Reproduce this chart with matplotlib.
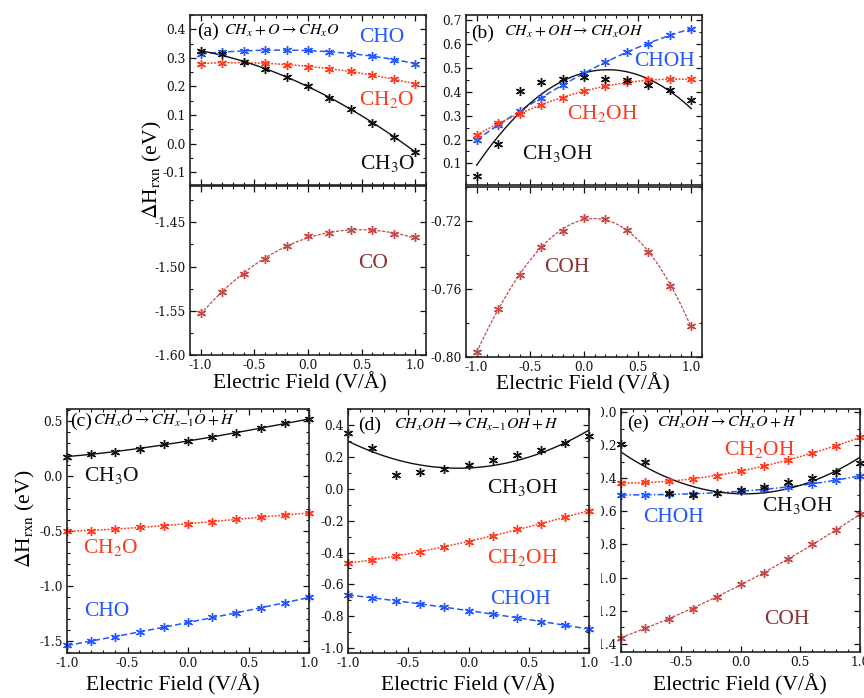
import numpy as np
import matplotlib
matplotlib.use('Agg')
import matplotlib.pyplot as plt
from matplotlib.ticker import MultipleLocator, FixedLocator, FormatStrFormatter
from matplotlib.transforms import Bbox, TransformedBbox

plt.rcParams['font.family'] = ['Liberation Serif', 'DejaVu Serif']
plt.rcParams['mathtext.fontset'] = 'stix'
plt.rcParams['axes.unicode_minus'] = False

# ---------------- data ----------------
field = [-1.0, -0.8, -0.6, -0.4, -0.2, 0.0, 0.2, 0.4, 0.6, 0.8, 1.0]

# (a) CH_x + O -> CH_xO
a_CH3O = [0.324, 0.312, 0.285, 0.262, 0.233, 0.200, 0.161, 0.121, 0.073, 0.024, -0.029]
a_CH2O = [0.280, 0.282, 0.285, 0.282, 0.276, 0.267, 0.262, 0.253, 0.240, 0.226, 0.208]
a_CHO = [0.314, 0.320, 0.324, 0.327, 0.327, 0.326, 0.321, 0.315, 0.306, 0.294, 0.280]
a_CO = [-1.553, -1.529, -1.508, -1.491, -1.477, -1.465, -1.462, -1.459, -1.459, -1.4635, -1.467]

# (b) CH_x + OH -> CH_xOH
b_CH3OH = [0.047, 0.181, 0.403, 0.440, 0.451, 0.461, 0.454, 0.447, 0.429, 0.406, 0.367]
b_CH2OH = [0.218, 0.269, 0.308, 0.343, 0.375, 0.403, 0.422, 0.440, 0.447, 0.451, 0.451]
b_CHOH = [0.200, 0.260, 0.318, 0.375, 0.426, 0.478, 0.524, 0.565, 0.600, 0.635, 0.663]
b_COH = [-0.797, -0.772, -0.752, -0.735, -0.726, -0.718, -0.719, -0.7255, -0.738, -0.758, -0.782]

# (c) CH_xO -> CH_(x-1)O + H
c_CH3O = [0.175, 0.197, 0.218, 0.248, 0.285, 0.315, 0.355, 0.391, 0.430, 0.476, 0.515]
c_CH2O = [-0.500, -0.495, -0.483, -0.467, -0.450, -0.432, -0.414, -0.395, -0.375, -0.355, -0.335]
c_CHO = [-1.535, -1.500, -1.457, -1.412, -1.373, -1.327, -1.282, -1.242, -1.197, -1.152, -1.100]

# (d) CH_xOH -> CH_(x-1)OH + H
d_CH3OH = [0.348, 0.258, 0.0865, 0.107, 0.124, 0.149, 0.181, 0.212, 0.243, 0.285, 0.331]
d_CH2OH = [-0.467, -0.446, -0.421, -0.394, -0.363, -0.331, -0.296, -0.254, -0.221, -0.179, -0.137]
d_CHOH = [-0.666, -0.683, -0.703, -0.722, -0.743, -0.764, -0.787, -0.808, -0.833, -0.854, -0.881]

# (e) CH_xOH -> CH_xO + H
e_CH2OH = [-0.430, -0.426, -0.416, -0.404, -0.386, -0.356, -0.325, -0.289, -0.248, -0.204, -0.154]
e_CH3OH = [-0.194, -0.303, -0.491, -0.501, -0.487, -0.471, -0.455, -0.426, -0.400, -0.360, -0.309]
e_CHOH = [-0.501, -0.501, -0.497, -0.497, -0.487, -0.477, -0.467, -0.455, -0.434, -0.410, -0.386]
e_COH = [-1.364, -1.305, -1.248, -1.188, -1.117, -1.042, -0.970, -0.889, -0.800, -0.713, -0.618]

# ---------------- styling ----------------
BLACK = '#111111'
RED = '#ff3a1f'
BLUE = '#2457ff'
BROWN = '#c44a4a'
BROWN_TXT = '#8a3232'
STAR = (6, 2, 0)
TICK_FS = 8.8

W, H = 864, 698
fig = plt.figure(figsize=(W / 100, H / 100), dpi=100)


def axes_px(x0, y0, x1, y1):
    return fig.add_axes([x0 / W, 1 - y1 / H, (x1 - x0) / W, (y1 - y0) / H])


def ftext(x, y, s, **kw):
    kw.setdefault('ha', 'center')
    kw.setdefault('va', 'center')
    return fig.text(x / W, 1 - y / H, s, **kw)


def style(ax, xlim, ylim, ymaj, ymin, yfmt, xlabels=True, xmaj=0.5, xmin=0.1, yticks=None):
    ax.set_xlim(*xlim)
    ax.set_ylim(*ylim)
    ax.xaxis.set_major_locator(MultipleLocator(xmaj))
    ax.xaxis.set_minor_locator(MultipleLocator(xmin))
    if yticks is not None:
        ax.yaxis.set_major_locator(FixedLocator(yticks))
    else:
        ax.yaxis.set_major_locator(MultipleLocator(ymaj))
    ax.yaxis.set_minor_locator(MultipleLocator(ymin))
    ax.xaxis.set_major_formatter(FormatStrFormatter('%.1f'))
    ax.yaxis.set_major_formatter(FormatStrFormatter(yfmt))
    ax.tick_params(which='both', direction='in', top=True, right=True,
                   labelsize=TICK_FS, labelfontfamily='DejaVu Serif', colors=BLACK)
    ax.tick_params(which='major', length=4, width=0.9)
    ax.tick_params(which='minor', length=2.2, width=0.8)
    ax.tick_params(axis='y', pad=3)
    ax.tick_params(axis='x', pad=3, labelbottom=xlabels)
    for sp in ax.spines.values():
        sp.set_linewidth(1.2)
        sp.set_color('#222222')


xs = np.linspace(-1, 1, 200)


def series(ax, y, color, ls, lw=1.1, deg=3, z=2, line=True):
    if line:
        ax.plot(xs, np.polyval(np.polyfit(field, y, deg), xs), color=color, ls=ls, lw=lw, zorder=z)
    ax.plot(field, y, ls='none', marker=STAR, ms=6.5, mew=1.0, color=color, zorder=z + 0.5,
            clip_on=False)


# ---------------- panel (a) ----------------
ax = axes_px(190, 15, 426, 185)
series(ax, a_CHO, BLUE, (0, (4, 2)))
series(ax, a_CH2O, RED, (0, (1.2, 1.0)))
series(ax, a_CH3O, BLACK, '-', lw=1.0)
style(ax, (-1.1, 1.1), (-0.145, 0.45), 0.1, 0.05, '%.1f', xlabels=False)

ax = axes_px(190, 186, 426, 355)
series(ax, a_CO, BROWN, (0, (2.5, 1.2)), lw=0.9)
style(ax, (-1.1, 1.1), (-1.6, -1.409), 0.05, 0.025, '%.2f')

# ---------------- panel (b) ----------------
ax = axes_px(466, 15, 702, 185)
series(ax, b_CHOH, BLUE, (0, (4, 2)))
series(ax, b_CH2OH, RED, (0, (1.2, 1.0)))
series(ax, b_CH3OH, BLACK, '-', lw=1.0, deg=2)
style(ax, (-1.1, 1.1), (0.01, 0.72), 0.1, 0.05, '%.1f', xlabels=False)

ax = axes_px(466, 187, 702, 357)
series(ax, b_COH, BROWN, (0, (2.5, 1.2)), lw=0.9)
style(ax, (-1.1, 1.1), (-0.80, -0.70), 0.04, 0.02, '%.2f', yticks=[-0.80, -0.76, -0.72])

# ---------------- panel (c) ----------------
ax = axes_px(67, 409, 309, 653)
series(ax, c_CHO, BLUE, (0, (4, 2)))
series(ax, c_CH2O, RED, (0, (1.2, 1.0)))
series(ax, c_CH3O, BLACK, '-', lw=1.0)
style(ax, (-1.0, 1.0), (-1.605, 0.606), 0.5, 0.1, '%.1f')

# ---------------- panel (e) (drawn before d) ----------------
ax_e = axes_px(621, 409, 860, 652)
series(ax_e, e_COH, BROWN, (0, (2.5, 1.2)), lw=0.9)
series(ax_e, e_CHOH, BLUE, (0, (4, 1.5, 1, 1.5)))
series(ax_e, e_CH2OH, RED, (0, (1.2, 1.0)))
series(ax_e, e_CH3OH, BLACK, '-', lw=1.0, deg=2)
style(ax_e, (-1.0, 1.0), (-1.45, 0.018), 0.2, 0.1, '%.1f',
      yticks=list(np.round(np.arange(-1.4, 0.01, 0.2), 1)))
clipbox = TransformedBbox(Bbox.from_extents(601 / W, 0, 1, 1), fig.transFigure)
for t in ax_e.yaxis.get_major_ticks():
    t.label1.set_clip_on(True)
    t.label1.set_clip_box(clipbox)

# ---------------- panel (d) ----------------
ax = axes_px(348, 409, 589, 653)
series(ax, d_CHOH, BLUE, (0, (4, 2)))
series(ax, d_CH2OH, RED, (0, (1.2, 1.0)))
series(ax, d_CH3OH, BLACK, '-', lw=1.0, deg=2)
style(ax, (-1.0, 1.0), (-1.03, 0.5), 0.2, 0.1, '%.1f')

# ---------------- texts ----------------
FS = 15.5
RFS = 11.5
# (a)
ftext(197, 31, '(a)', ha='left', fontsize=14)
ftext(224, 31, r'$CH_x+O\rightarrow CH_xO$', ha='left', fontsize=RFS)
ftext(382, 38, 'CHO', color=BLUE, fontsize=FS)
ftext(387, 100, 'CH$_2$O', color=RED, fontsize=FS)
ftext(388, 163, 'CH$_3$O', color=BLACK, fontsize=FS)
ftext(373, 264, 'CO', color=BROWN_TXT, fontsize=FS)
ftext(300, 383, 'Electric Field (V/Å)', fontsize=15.5)
# (b)
ftext(471, 33, '(b)', ha='left', fontsize=14)
ftext(504, 32, r'$CH_x+OH\rightarrow CH_xOH$', ha='left', fontsize=RFS)
ftext(664, 62, 'CHOH', color=BLUE, fontsize=FS)
ftext(603, 113, 'CH$_2$OH', color=RED, fontsize=FS)
ftext(558, 154, 'CH$_3$OH', color=BLACK, fontsize=FS)
ftext(567, 268, 'COH', color=BROWN_TXT, fontsize=FS)
ftext(583, 384, 'Electric Field (V/Å)', fontsize=15.5)
# y labels
ftext(152, 170, r'$\Delta$H$_{\rm rxn}$ (eV)', rotation=90, fontsize=15.5)
ftext(25, 519, r'$\Delta$H$_{\rm rxn}$ (eV)', rotation=90, fontsize=15.5)
# (c)
ftext(70, 421, '(c)', ha='left', fontsize=14)
ftext(93, 421, r'$CH_xO\rightarrow CH_{x\!-\!1}O+H$', ha='left', fontsize=RFS)
ftext(112, 475, 'CH$_3$O', color=BLACK, fontsize=FS)
ftext(111, 547, 'CH$_2$O', color=RED, fontsize=FS)
ftext(107, 612, 'CHO', color=BLUE, fontsize=FS)
ftext(173, 685, 'Electric Field (V/Å)', fontsize=15.5)
# (d)
ftext(358, 425, '(d)', ha='left', fontsize=14)
ftext(394, 425, r'$CH_xOH\rightarrow CH_{x\!-\!1}OH+H$', ha='left', fontsize=RFS)
ftext(523, 487, 'CH$_3$OH', color=BLACK, fontsize=FS)
ftext(523, 557, 'CH$_2$OH', color=RED, fontsize=FS)
ftext(520, 600, 'CHOH', color=BLUE, fontsize=FS)
ftext(468, 685, 'Electric Field (V/Å)', fontsize=15.5)
# (e)
ftext(627, 423, '(e)', ha='left', fontsize=14)
ftext(657, 423, r'$CH_xOH\rightarrow CH_xO+H$', ha='left', fontsize=RFS)
ftext(760, 450, 'CH$_2$OH', color=RED, fontsize=FS)
ftext(798, 505, 'CH$_3$OH', color=BLACK, fontsize=FS)
ftext(673, 518, 'CHOH', color=BLUE, fontsize=FS)
ftext(787, 620, 'COH', color=BROWN_TXT, fontsize=FS)
ftext(740, 685, 'Electric Field (V/Å)', fontsize=15.5)

fig.savefig('out.png', dpi=100)
